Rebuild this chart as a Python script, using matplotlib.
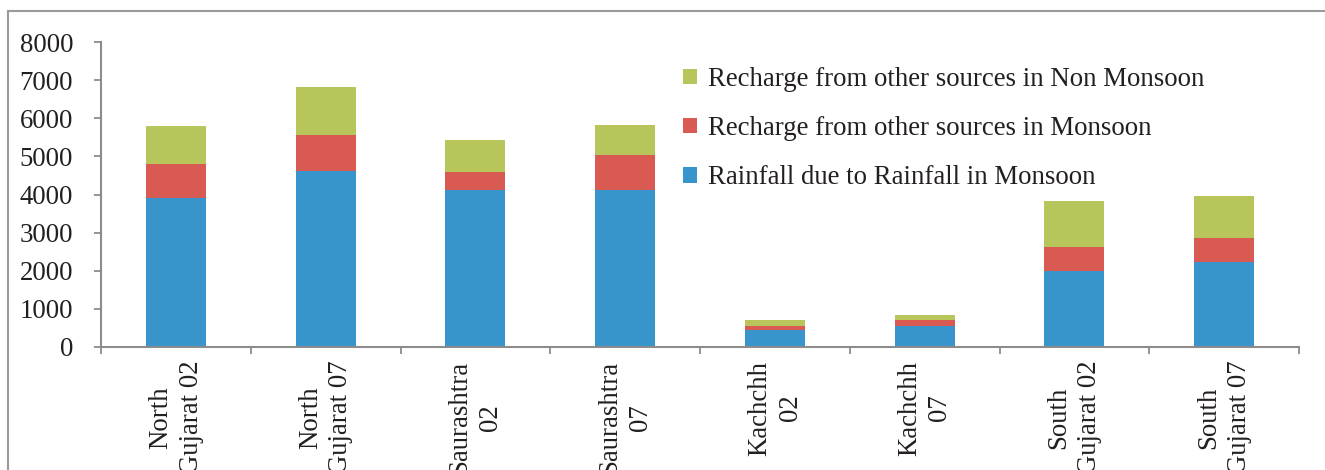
import matplotlib
matplotlib.use("Agg")
import matplotlib.pyplot as plt
import numpy as np
from matplotlib.patches import Rectangle

categories = ["North\nGujarat 02", "North\nGujarat 07", "Saurashtra\n02", "Saurashtra\n07",
              "Kachchh\n02", "Kachchh\n07", "South\nGujarat 02", "South\nGujarat 07"]
rainfall_monsoon = [3920, 4620, 4130, 4130, 450, 550, 1990, 2235]
other_monsoon = [885, 945, 465, 910, 95, 150, 630, 630]
other_non_monsoon = [1000, 1260, 840, 790, 160, 130, 1210, 1095]

series_labels = ["Rainfall due to Rainfall in Monsoon",
                 "Recharge from other sources in Monsoon",
                 "Recharge from other sources in Non Monsoon"]
colors = ["#3795cc", "#d95a53", "#b7c55b"]

plt.rcParams["font.family"] = ["Liberation Serif", "DejaVu Serif"]
text_color = "#231f20"
axis_color = "#8c8c8c"
fs = 19.3

W, H = 1325, 470
fig = plt.figure(figsize=(W / 100, H / 100), dpi=100)

# outer frame
fig.patches.append(Rectangle((8 / W, -0.1), 1.2, (H - 11) / H + 0.1,
                             transform=fig.transFigure, fill=False,
                             edgecolor="#9a9a9a", linewidth=1.5))

ax = fig.add_axes([101 / W, 1 - 346.7 / H, (1299 - 101) / W, (346.7 - 42.3) / H])

x = np.arange(len(categories))
b1 = np.array(rainfall_monsoon)
b2 = np.array(other_monsoon)
b3 = np.array(other_non_monsoon)
width = 0.4
h1 = ax.bar(x, b1, width, color=colors[0], label=series_labels[0])
h2 = ax.bar(x, b2, width, bottom=b1, color=colors[1], label=series_labels[1])
h3 = ax.bar(x, b3, width, bottom=b1 + b2, color=colors[2], label=series_labels[2])

ax.set_xlim(-0.5, len(categories) - 0.5)
ax.set_ylim(0, 8000)
ax.set_yticks(np.arange(0, 8001, 1000))
ax.tick_params(axis="y", direction="out", length=5, width=1.3, color=axis_color,
               labelsize=fs, labelcolor=text_color, pad=15)

ax.set_xticks(np.arange(-0.5, len(categories), 1))
ax.set_xticklabels([])
ax.set_xticks(x, minor=True)
ax.set_xticklabels(categories, minor=True, rotation=90, ha="center", va="top",
                   multialignment="center", fontsize=fs, color=text_color,
                   linespacing=1.3)
ax.tick_params(axis="x", which="major", direction="out", length=5, width=1.3, color=axis_color)
ax.tick_params(axis="x", which="minor", length=0, pad=10)

for side in ["top", "right"]:
    ax.spines[side].set_visible(False)
for side in ["left", "bottom"]:
    ax.spines[side].set_color(axis_color)
    ax.spines[side].set_linewidth(1.5)

leg = fig.legend([h3, h2, h1], [series_labels[2], series_labels[1], series_labels[0]],
                 loc="upper left", bbox_to_anchor=(683 / W, 1 - 67 / H),
                 frameon=False, fontsize=fs, handlelength=0.52, handleheight=0.52,
                 handletextpad=0.4, labelspacing=0.9, borderpad=0, borderaxespad=0)
for t in leg.get_texts():
    t.set_color(text_color)

fig.savefig("out.png", dpi=100)
